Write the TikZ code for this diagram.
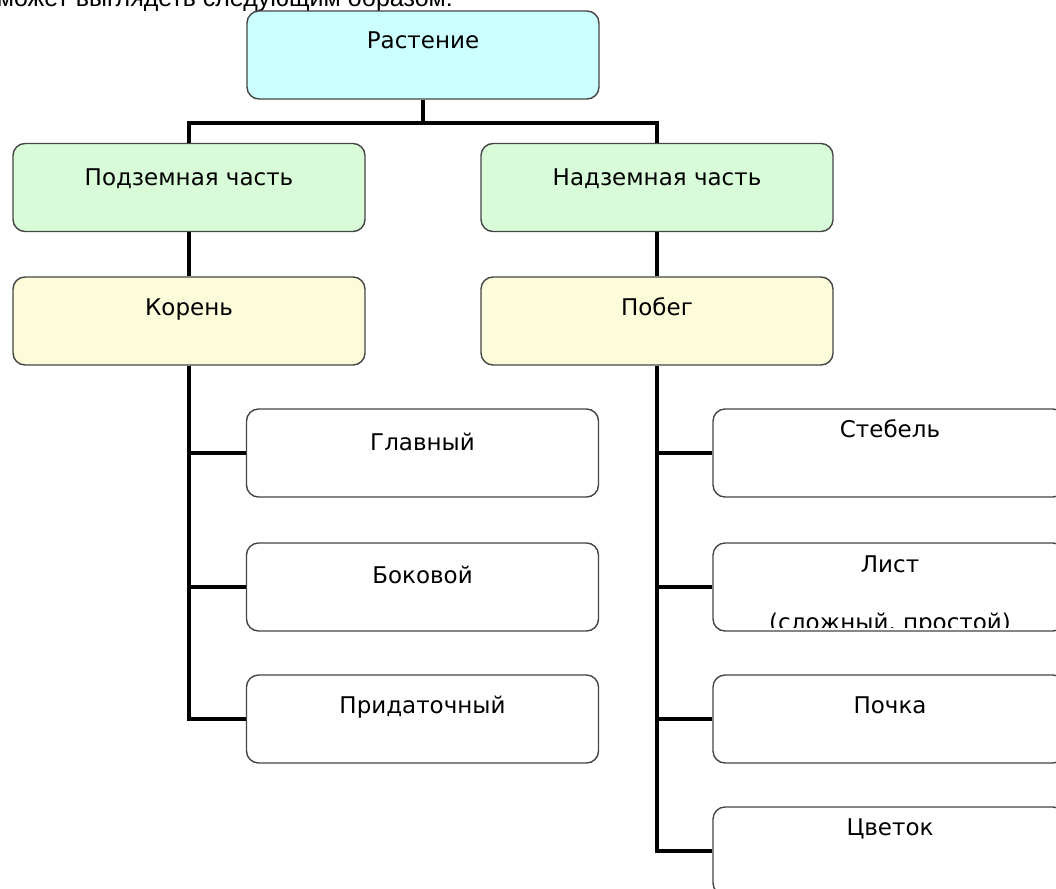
\documentclass[tikz,border=0pt]{standalone}
\usepackage{fontspec}
\setmainfont{DejaVu Sans}
\newfontfamily\arialfont{Liberation Sans}
\definecolor{cyanfill}{HTML}{CCFFFF}
\definecolor{greenfill}{HTML}{D8FCD8}
\definecolor{yellowfill}{HTML}{FCFCDA}
\definecolor{boxline}{HTML}{454545}
\tikzset{
  box/.style={draw=boxline, line width=1.4pt, rounded corners=12pt, minimum width=352pt, minimum height=88pt, inner sep=0pt, fill=white},
  boxtext/.style={font=\fontsize{23}{27}\selectfont, inner sep=0pt, anchor=base},
  conn/.style={draw=black, line width=4.2pt, line join=miter}
}
\begin{document}
\begin{tikzpicture}[x=1pt,y=-1pt]
\useasboundingbox (0,0) rectangle (1056,888);
\clip (0,0) rectangle (1056,888);
% heading fragment
\node[font=\arialfont\fontsize{25}{28}\selectfont, inner sep=0pt, anchor=base east] (head) at (453,7) {может выглядеть следующим образом:};
% boxes
\node[box, fill=cyanfill] (rast) at (423,55) {};
\node[box, fill=greenfill] (podz) at (189,187.5) {};
\node[box, fill=greenfill] (nadz) at (657,187.5) {};
\node[box, fill=yellowfill] (koren) at (189,321) {};
\node[box, fill=yellowfill] (pobeg) at (657,321) {};
\node[box] (glav) at (422.5,453) {};
\node[box] (bokov) at (422.5,587) {};
\node[box] (pridat) at (422.5,719) {};
\node[box] (stebel) at (889,453) {};
\node[box] (list) at (889,587) {};
\node[box] (pochka) at (889,719) {};
\node[box] (cvetok) at (889,851) {};
% texts
\node[boxtext] (trast) at (423,49) {Растение};
\node[boxtext] (tpodz) at (189,185) {Подземная часть};
\node[boxtext] (tnadz) at (657,185) {Надземная часть};
\node[boxtext] (tkoren) at (189,315) {Корень};
\node[boxtext] (tpobeg) at (657,315) {Побег};
\node[boxtext] (tglav) at (422.5,450) {Главный};
\node[boxtext] (tbokov) at (422.5,583) {Боковой};
\node[boxtext] (tpridat) at (422.5,713) {Придаточный};
\node[boxtext] (tstebel) at (890,437) {Стебель};
\node[boxtext] (tlist) at (890,572) {Лист};
\begin{scope}
\clip (713,543) rectangle (1065,627);
\node[boxtext] (tlist2) at (890,630) {(сложный, простой)};
\end{scope}
\node[boxtext] (tpochka) at (890,713) {Почка};
\node[boxtext] (tcvetok) at (890,835) {Цветок};
% connectors
\coordinate (bar) at (423,123);
\draw[conn] (rast.south) -- (rast.south |- bar);
\draw[conn] (podz.north) |- (bar) -| (nadz.north);
\draw[conn] (podz.south) -- (koren.north);
\draw[conn] (nadz.south) -- (pobeg.north);
\draw[conn] (koren.south) |- (pridat.west);
\draw[conn] (koren.south |- glav.west) -- (glav.west);
\draw[conn] (koren.south |- bokov.west) -- (bokov.west);
\draw[conn] (pobeg.south) |- (cvetok.west);
\draw[conn] (pobeg.south |- stebel.west) -- (stebel.west);
\draw[conn] (pobeg.south |- list.west) -- (list.west);
\draw[conn] (pobeg.south |- pochka.west) -- (pochka.west);
\end{tikzpicture}
\end{document}
